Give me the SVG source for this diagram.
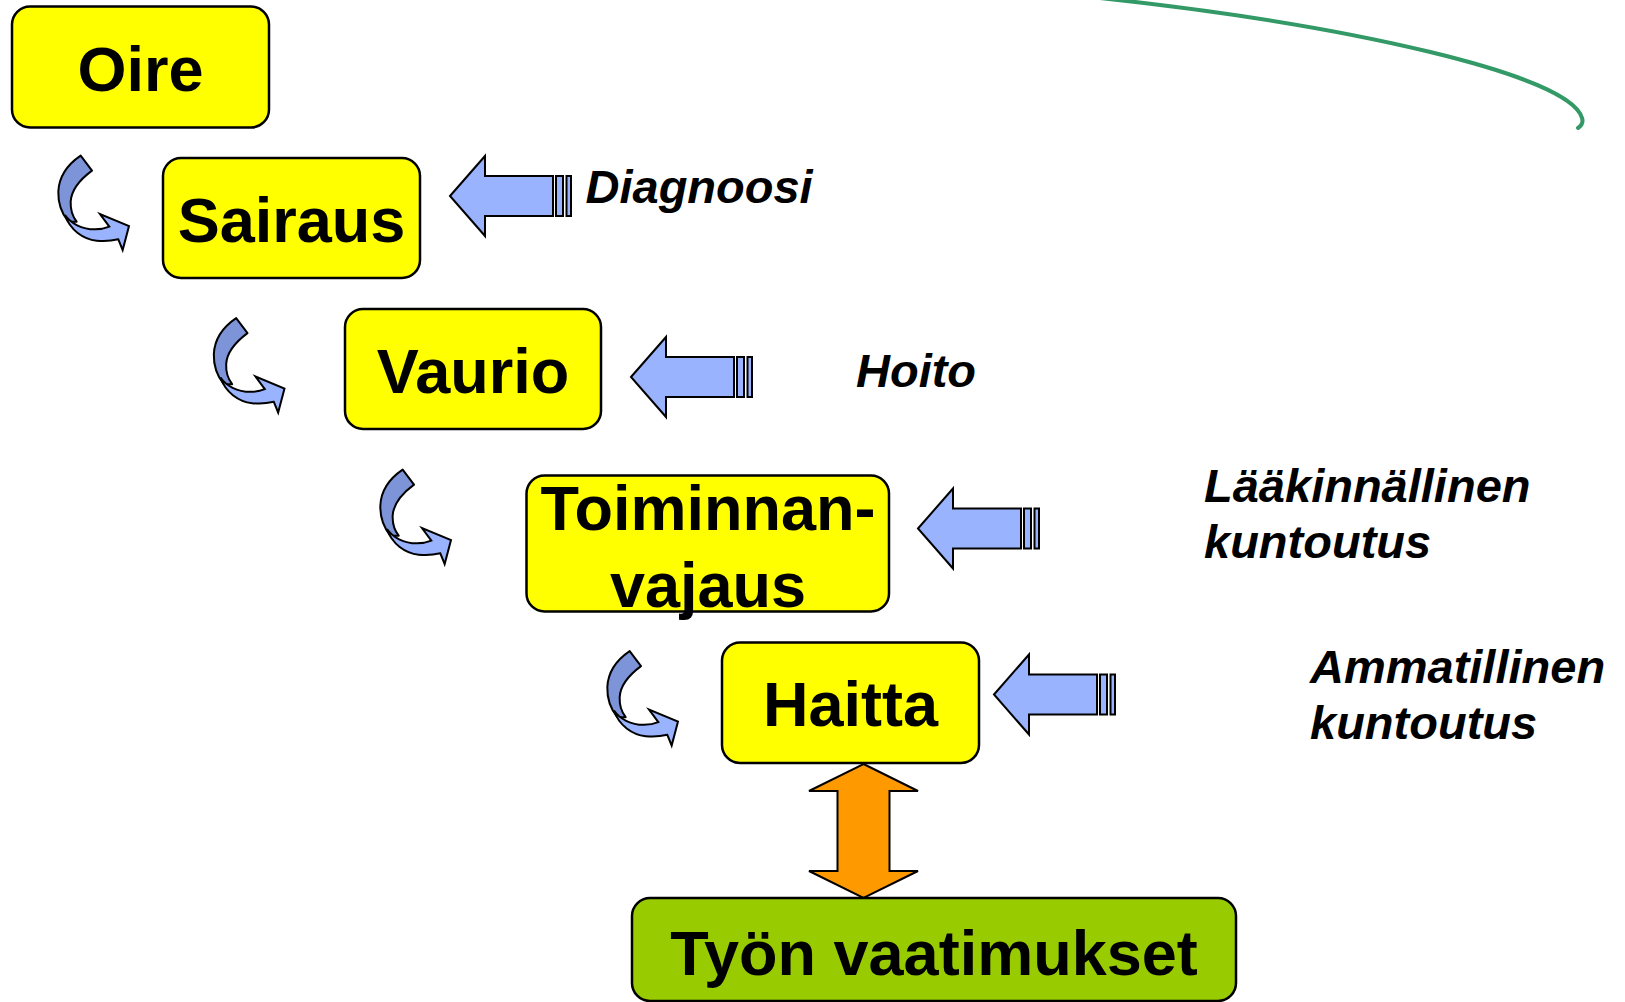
<svg xmlns="http://www.w3.org/2000/svg" width="1625" height="1002" viewBox="0 0 1625 1002">
<style>
.box{fill:#FFFF00;stroke:#000;stroke-width:2.5}
.green{fill:#99CC00;stroke:#000;stroke-width:2.5}
.t{font-family:"Liberation Sans",Arial,sans-serif;font-weight:bold;font-size:63px;fill:#000;text-anchor:middle}
.lbl{font-family:"Liberation Sans",Arial,sans-serif;font-weight:bold;font-style:italic;font-size:47px;fill:#000}
.blk{fill:#99B3FF;stroke:#000;stroke-width:2;stroke-linejoin:miter}
.cd{fill:#7D94D9;stroke:#000;stroke-width:6;stroke-linejoin:round}
.cl{fill:#99B3FF;stroke:#000;stroke-width:6;stroke-linejoin:miter}
.orange{fill:#FF9900;stroke:#000;stroke-width:2}
.curve{fill:none;stroke:#339966;stroke-width:4;stroke-linecap:round}
</style>
<defs>
<g id="curv">
<path class="cd" d="M 92 17 L 126 62 C 95 85 64 118 62 155 C 61 180 68 200 80 215 L 55 215 C 35 190 24 160 25 125 C 27 80 55 42 92 17 Z"/>
<path class="cl" d="M 45 195 C 62 220 95 238 135 238 C 152 238 166 235 178 230 L 150 192 L 237 228 L 218 300 L 205 268 C 188 272 165 275 140 272 C 100 268 60 240 45 195 Z"/>
</g>
<g id="blockArrow">
<polygon class="blk" points="0,0 35,-40 35,-20 103,-20 103,20 35,20 35,40"/>
<rect class="blk" x="106" y="-20" width="7" height="40"/>
<rect class="blk" x="116.5" y="-20" width="4.5" height="40"/>
</g>
</defs>

<path class="curve" d="M 1100 -2 C 1350 25 1570 75 1582 118 Q 1584 124 1578 128"/>

<g id="connectors">
<use href="#curv" transform="translate(50,150) scale(0.3333)"/>
<use href="#curv" transform="translate(205.5,312.5) scale(0.3333)"/>
<use href="#curv" transform="translate(372,464) scale(0.3333)"/>
<use href="#curv" transform="translate(599,645.5) scale(0.3333)"/>
<use href="#blockArrow" transform="translate(450,196)"/>
<use href="#blockArrow" transform="translate(631,377)"/>
<use href="#blockArrow" transform="translate(918,528.5)"/>
<use href="#blockArrow" transform="translate(994,694.5)"/>
<polygon class="orange" points="863.5,764 918,791 889.5,791 889.5,871 918,871 863.5,898 809,871 837.5,871 837.5,791 809,791"/>
</g>

<g id="oire">
<rect class="box" x="12" y="6.5" width="257" height="121" rx="18"/>
<text class="t" x="140.5" y="90.5">Oire</text>
</g>
<g id="sairaus">
<rect class="box" x="163" y="158" width="257" height="120" rx="18"/>
<text class="t" x="291.5" y="241.5">Sairaus</text>
</g>
<g id="vaurio">
<rect class="box" x="345" y="309" width="256" height="120" rx="18"/>
<text class="t" x="473" y="392.5">Vaurio</text>
</g>
<g id="toiminnanvajaus">
<rect class="box" x="526.5" y="475.5" width="362.5" height="136" rx="18"/>
<text class="t" x="708" y="530">Toiminnan-</text>
<text class="t" x="708" y="607">vajaus</text>
</g>
<g id="haitta">
<rect class="box" x="722" y="642.5" width="257" height="120.5" rx="18"/>
<text class="t" x="850.5" y="726">Haitta</text>
</g>
<g id="tyon">
<rect class="green" x="632" y="898" width="604" height="103" rx="18"/>
<text class="t" x="934" y="975">Työn vaatimukset</text>
</g>

<g id="labels">
<text class="lbl" x="585.5" y="203">Diagnoosi</text>
<text class="lbl" x="856" y="386.5">Hoito</text>
<text class="lbl" x="1204" y="502">Lääkinnällinen</text>
<text class="lbl" x="1204" y="558">kuntoutus</text>
<text class="lbl" x="1310" y="683">Ammatillinen</text>
<text class="lbl" x="1310" y="739">kuntoutus</text>
</g>
</svg>
